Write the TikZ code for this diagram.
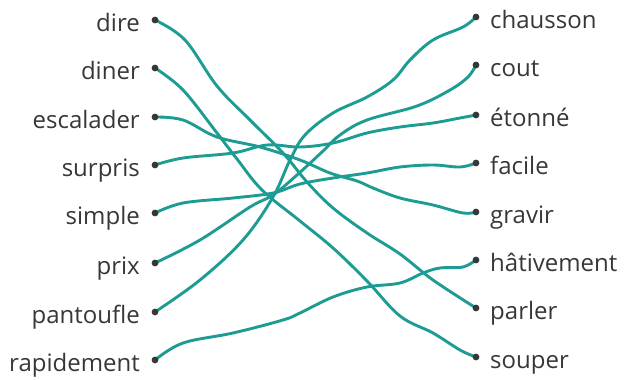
\documentclass[tikz,border=0pt]{standalone}
\usepackage{fontspec}
\setmainfont{Open Sans}
\usetikzlibrary{calc}
\definecolor{linkteal}{RGB}{28,156,146}
\definecolor{dotgray}{RGB}{55,55,55}
\definecolor{wordgray}{RGB}{55,55,55}
\tikzset{
  link/.style={linkteal,line width=2.9pt,line cap=round,line join=round},
  word/.style={inner sep=0pt,text=wordgray,font=\fontsize{24}{28}\selectfont},
}
\newcommand{\LeftWord}[3]{
  \coordinate (l#1) at (155,#2);
  \node[word,anchor=base east] (wl#1) at ($(l#1)+(-15,11)$) {#3};
}
\newcommand{\RightWord}[3]{
  \coordinate (r#1) at (476,#2);
  \node[word,anchor=base west] (wr#1) at ($(r#1)+(14,11)$) {#3};
}
\newcommand{\Link}[3]{
  \draw[link] plot[smooth,tension=0.6] coordinates {(l#1) #2 (r#3)};
}

\begin{document}
\begin{tikzpicture}[x=1pt,y=-1pt]
  \useasboundingbox (0,0) rectangle (625,380);
  % left column
  \LeftWord{dire}{20}{dire}
  \LeftWord{diner}{68}{diner}
  \LeftWord{escalader}{117}{escalader}
  \LeftWord{surpris}{165}{surpris}
  \LeftWord{simple}{213}{simple}
  \LeftWord{prix}{263}{prix}
  \LeftWord{pantoufle}{312}{pantoufle}
  \LeftWord{rapidement}{360}{rapidement}
  % right column
  \RightWord{chausson}{17}{chausson}
  \RightWord{cout}{65}{cout}
  \RightWord{etonne}{115}{étonné}
  \RightWord{facile}{163}{facile}
  \RightWord{gravir}{212}{gravir}
  \RightWord{hativement}{260}{hâtivement}
  \RightWord{parler}{308}{parler}
  \RightWord{souper}{357}{souper}
  % hand drawn links
  \Link{dire}{(185,40) (217,86) (250,120) (283,153) (307,182) (333,208) (367,233) (400,254) (433,280)}{parler}
  \Link{diner}{(183,90) (217,133) (237,159) (262,190) (300,221) (333,248) (367,281) (400,316) (433,333) (460,350)}{souper}
  \Link{escalader}{(183,120) (217,137) (260,147) (300,160) (330,173) (357,181) (373,188) (400,198) (433,205) (463,213)}{gravir}
  \Link{surpris}{(183,158) (233,153) (267,145) (300,147) (333,143) (367,133) (400,127) (433,123) (460,118)}{etonne}
  \Link{simple}{(183,203) (233,198) (273,193) (300,184) (333,178) (367,173) (400,167) (433,165) (460,167)}{facile}
  \Link{prix}{(200,240) (250,207) (273,195) (297,175) (322,152) (340,135) (367,120) (417,106) (450,90) (468,77)}{cout}
  \Link{pantoufle}{(200,280) (243,240) (273,197) (290,160) (305,135) (333,113) (367,97) (393,80) (410,60) (433,40) (463,27)}{chausson}
  \Link{rapidement}{(183,343) (233,333) (283,320) (300,313) (333,297) (367,287) (400,283) (423,273) (440,268) (463,267)}{hativement}
  % dots
  \foreach \n in {dire,diner,escalader,surpris,simple,prix,pantoufle,rapidement}
    \fill[dotgray] (l\n) circle[radius=3.4pt];
  \foreach \n in {chausson,cout,etonne,facile,gravir,hativement,parler,souper}
    \fill[dotgray] (r\n) circle[radius=3.4pt];
\end{tikzpicture}
\end{document}
